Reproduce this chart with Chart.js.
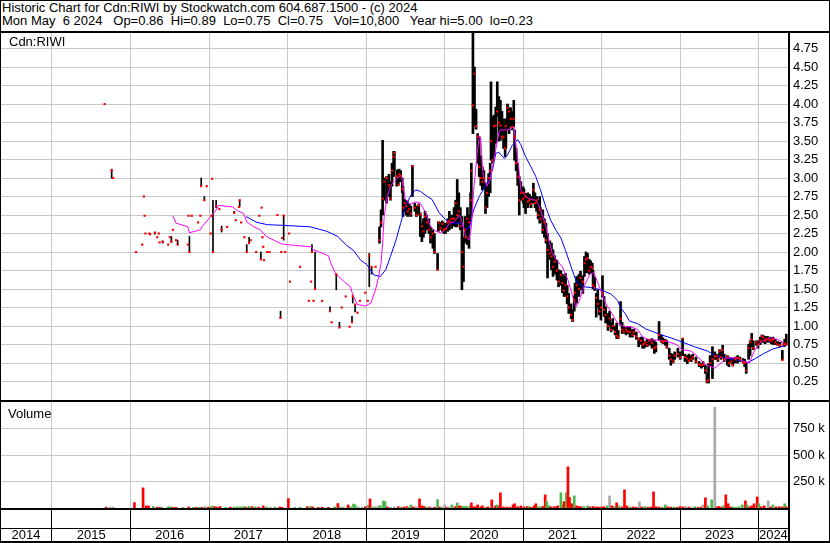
<!DOCTYPE html>
<html>
<head>
<meta charset="utf-8">
<script src="https://cdn.jsdelivr.net/npm/chart.js@4.4.1/dist/chart.umd.min.js"></script>
<style>
  body { margin: 0; background: #fff; }
  #wrap { position: relative; width: 830px; height: 543px; overflow: hidden; background: #fff;
          font-family: "Liberation Sans", Arial, sans-serif; color: #000; }
  .hdr { position: absolute; left: 2px; top: 1px; font-size: 13px; line-height: 13px; white-space: pre; }
  .lbl { position: absolute; font-size: 13px; line-height: 15px; white-space: pre; z-index: 3; }
  .ln { position: absolute; background: #000; z-index: 4; }
  #frame { position: absolute; left: 0; top: 0; width: 828px; height: 541px; border: 1px solid #000; z-index: 5; }
  canvas { position: absolute; left: 0; }
</style>
</head>
<body>
<div id="wrap">
  <div class="hdr" id="head"></div>
  <canvas id="price" width="830" height="367" style="top:33px"></canvas>
  <canvas id="vol" width="830" height="141" style="top:402px"></canvas>
  <div class="lbl" style="left:9px; top:34px">Cdn:RIWI</div>
  <div class="lbl" style="left:8px; top:406px">Volume</div>
  <div class="ln" style="left:0; top:31px; width:830px; height:2px"></div>
  <div class="ln" style="left:788px; top:31px; width:2px; height:512px"></div>
  <div class="ln" style="left:0; top:400px; width:830px; height:2px"></div>
  <div class="ln" style="left:0; top:508px; width:789px; height:2px"></div>
  <div class="ln" style="left:0; top:528px; width:789px; height:1px"></div>
  <div class="ln" style="left:0; top:541px; width:830px; height:2px"></div>
  <div id="frame"></div>
</div>
<script>
const headLines = [
  'Historic Chart for Cdn:RIWI by Stockwatch.com 604.687.1500 - (c) 2024',
  'Mon May  6 2024   Op=0.86  Hi=0.89  Lo=0.75  Cl=0.75   Vol=10,800   Year hi=5.00  lo=0.23'
];

// x range of the plot, in decimal years
const X_MIN = 2014.338, X_MAX = 2024.372;
const yearLines = [2015, 2016, 2017, 2018, 2019, 2020, 2021, 2022, 2023, 2024];
const priceTicks = [0.25, 0.5, 0.75, 1, 1.25, 1.5, 1.75, 2, 2.25, 2.5, 2.75, 3, 3.25, 3.5, 3.75, 4, 4.25, 4.5, 4.75];
const volTicks = [250000, 500000, 750000];

// daily bars (decimal year, low, high, close)
const barDate = [
  2015.67, 2015.76, 2015.78, 2016.07, 2016.15, 2016.17, 2016.18, 2016.19, 2016.24, 2016.25, 2016.31, 2016.34, 2016.36, 2016.37, 2016.41, 2016.48, 2016.50, 2016.52, 2016.54, 2016.58, 2016.60, 2016.73, 2016.74, 2016.75, 2016.78, 2016.86, 2016.89, 2016.90, 2016.94, 2016.97,
  2017.02, 2017.03, 2017.04, 2017.05, 2017.09, 2017.13, 2017.16, 2017.23, 2017.32, 2017.34, 2017.38, 2017.39, 2017.41, 2017.45, 2017.48, 2017.51, 2017.53, 2017.60, 2017.64, 2017.66, 2017.67, 2017.68, 2017.69, 2017.70, 2017.74, 2017.77, 2017.87, 2017.91, 2017.92, 2017.93, 2017.95, 2017.97,
  2018.02, 2018.03, 2018.16, 2018.27, 2018.30, 2018.31, 2018.33, 2018.35, 2018.44, 2018.54, 2018.56, 2018.62, 2018.66, 2018.69, 2018.74, 2018.79, 2018.82, 2018.83, 2018.86, 2018.89, 2018.92, 2018.99,
  2019.02, 2019.04, 2019.07, 2019.12, 2019.17, 2019.19, 2019.21, 2019.23, 2019.26, 2019.29, 2019.31, 2019.33, 2019.35, 2019.36, 2019.39, 2019.41, 2019.42, 2019.44, 2019.46, 2019.47,
  2019.49, 2019.51, 2019.53, 2019.55, 2019.57, 2019.59, 2019.62, 2019.64, 2019.67, 2019.69, 2019.71, 2019.73, 2019.75, 2019.77, 2019.80, 2019.82, 2019.85, 2019.87, 2019.91, 2019.92, 2019.95, 2019.97, 2019.99,
  2020.01, 2020.04, 2020.06, 2020.09, 2020.12, 2020.14, 2020.16, 2020.18, 2020.20, 2020.22, 2020.24, 2020.26, 2020.27, 2020.29, 2020.31, 2020.33, 2020.34, 2020.36, 2020.38, 2020.40, 2020.42, 2020.44, 2020.46, 2020.48,
  2020.50, 2020.52, 2020.54, 2020.56, 2020.58, 2020.59, 2020.61, 2020.63, 2020.65, 2020.67, 2020.69, 2020.71, 2020.73, 2020.75, 2020.77, 2020.78, 2020.80, 2020.82, 2020.84, 2020.86, 2020.88, 2020.89, 2020.91, 2020.93, 2020.95, 2020.97,
  2021.00, 2021.01, 2021.03, 2021.06, 2021.08, 2021.10, 2021.13, 2021.15, 2021.17, 2021.19, 2021.21, 2021.22, 2021.25, 2021.27, 2021.29, 2021.31, 2021.34, 2021.36, 2021.38, 2021.40, 2021.43, 2021.45, 2021.48, 2021.50,
  2021.52, 2021.54, 2021.56, 2021.58, 2021.61, 2021.63, 2021.65, 2021.66, 2021.68, 2021.71, 2021.73, 2021.76, 2021.78, 2021.80, 2021.82, 2021.84, 2021.86, 2021.88, 2021.89, 2021.91, 2021.93, 2021.95, 2021.97, 2021.99,
  2022.01, 2022.03, 2022.05, 2022.08, 2022.10, 2022.12, 2022.14, 2022.17, 2022.19, 2022.21, 2022.24, 2022.26, 2022.28, 2022.31, 2022.33, 2022.36, 2022.39, 2022.41, 2022.44, 2022.47,
  2022.50, 2022.52, 2022.54, 2022.56, 2022.58, 2022.61, 2022.64, 2022.67, 2022.69, 2022.73, 2022.76, 2022.78, 2022.81, 2022.83, 2022.86, 2022.88, 2022.91, 2022.93, 2022.97,
  2023.00, 2023.03, 2023.06, 2023.09, 2023.11, 2023.14, 2023.16, 2023.20, 2023.24, 2023.27, 2023.29, 2023.32, 2023.34, 2023.36, 2023.38, 2023.41, 2023.44, 2023.46, 2023.48, 2023.50,
  2023.52, 2023.54, 2023.56, 2023.60, 2023.62, 2023.65, 2023.67, 2023.70, 2023.73, 2023.76, 2023.80, 2023.82, 2023.84, 2023.87, 2023.89, 2023.91, 2023.93, 2023.97, 2023.99,
  2024.02, 2024.04, 2024.06, 2024.08, 2024.11, 2024.14, 2024.16, 2024.18, 2024.21, 2024.24, 2024.27, 2024.30, 2024.32, 2024.33, 2024.35
];
const barLow = [
  4.00, 3.00, 3.00, 2.00, 2.10, 2.75, 2.49, 2.25, 2.25, 2.24, 2.24, 2.20, 2.25, 2.13, 2.12, 2.10, 2.20, 2.13, 2.30, 2.16, 2.10, 2.10, 2.49, 2.00, 2.49, 2.40, 2.49, 2.89, 2.70, 2.89,
  2.25, 2.49, 2.99, 2.00, 2.60, 2.58, 2.27, 2.34, 2.53, 2.43, 2.61, 2.61, 2.40, 2.20, 2.00, 2.12, 2.16, 2.00, 2.49, 1.90, 2.60, 2.20, 2.07, 1.89, 2.00, 2.00, 2.50, 1.11, 2.00, 2.19, 2.16, 2.00,
  2.25, 1.60, 1.80, 1.34, 1.60, 2.00, 1.34, 1.49, 1.34, 1.20, 1.05, 1.49, 0.98, 1.25, 1.40, 0.99, 1.05, 1.31, 1.19, 1.18, 1.34, 1.45,
  1.34, 1.53, 1.70, 1.80, 2.12, 2.34, 2.50, 2.70, 2.66, 2.75, 2.70, 2.89, 3.02, 3.11, 2.89, 2.90, 2.95, 2.95, 2.80, 2.48,
  2.55, 2.50, 2.48, 2.50, 2.48, 2.75, 2.55, 2.48, 2.50, 2.21, 2.14, 2.20, 2.25, 2.30, 2.25, 2.12, 2.05, 1.98, 1.76, 2.28, 2.30, 2.28, 2.25,
  2.25, 2.28, 2.30, 2.32, 2.35, 2.34, 2.34, 2.40, 2.30, 1.49, 1.60, 2.12, 2.15, 2.10, 2.05, 2.40, 2.60, 3.60, 3.70, 3.66, 3.20, 3.02, 2.90, 2.84,
  2.85, 2.52, 2.60, 2.75, 2.80, 3.24, 3.20, 3.30, 3.47, 3.83, 3.50, 3.51, 3.55, 3.40, 3.29, 3.40, 3.65, 3.60, 3.70, 3.65, 3.69, 3.24, 3.10, 2.90, 2.50, 2.70,
  2.66, 2.60, 2.52, 2.60, 2.65, 2.60, 2.66, 2.60, 2.55, 2.45, 2.39, 2.40, 2.25, 2.20, 2.12, 1.65, 1.90, 1.76, 1.67, 1.70, 1.62, 1.53, 1.55, 1.45,
  1.40, 1.40, 1.30, 1.17, 1.10, 1.06, 1.20, 1.26, 1.31, 1.40, 1.49, 1.44, 1.67, 1.72, 1.72, 1.70, 1.72, 1.72, 1.50, 1.48, 1.12, 1.26, 1.15, 1.08,
  1.39, 1.13, 1.04, 0.94, 1.00, 0.92, 0.95, 0.88, 0.83, 0.83, 1.01, 0.90, 0.90, 0.88, 0.90, 0.85, 0.85, 0.88, 0.82, 0.72,
  0.75, 0.70, 0.70, 0.72, 0.72, 0.74, 0.70, 0.63, 0.65, 0.81, 0.78, 0.76, 0.74, 0.70, 0.55, 0.47, 0.50, 0.55, 0.58,
  0.55, 0.60, 0.52, 0.49, 0.52, 0.52, 0.55, 0.50, 0.45, 0.43, 0.45, 0.36, 0.23, 0.23, 0.45, 0.29, 0.55, 0.55, 0.52, 0.58,
  0.55, 0.58, 0.52, 0.47, 0.45, 0.50, 0.46, 0.50, 0.50, 0.52, 0.50, 0.45, 0.36, 0.55, 0.60, 0.72, 0.68, 0.74, 0.70,
  0.75, 0.78, 0.78, 0.76, 0.78, 0.78, 0.76, 0.75, 0.75, 0.74, 0.72, 0.54, 0.72, 0.73, 0.75
];
const barHigh = [
  4.00, 3.12, 3.00, 2.00, 2.10, 2.75, 2.49, 2.25, 2.25, 2.24, 2.27, 2.20, 2.25, 2.13, 2.15, 2.10, 2.20, 2.21, 2.30, 2.16, 2.16, 2.10, 2.49, 2.21, 2.49, 2.40, 2.49, 3.00, 2.75, 2.89,
  2.25, 2.49, 2.99, 2.70, 2.70, 2.58, 2.35, 2.34, 2.55, 2.43, 2.61, 2.70, 2.40, 2.20, 2.10, 2.20, 2.16, 2.00, 2.49, 2.00, 2.60, 2.20, 2.07, 1.89, 2.00, 2.00, 2.50, 1.20, 2.00, 2.19, 2.50, 2.00,
  2.25, 1.60, 1.80, 1.34, 1.60, 2.10, 1.34, 2.00, 1.34, 1.26, 1.05, 1.70, 1.05, 1.25, 1.40, 0.99, 1.13, 1.41, 1.29, 1.18, 1.34, 1.45,
  1.34, 1.98, 1.80, 1.80, 2.34, 2.57, 3.51, 3.00, 3.02, 3.05, 2.95, 3.20, 3.36, 3.36, 3.11, 3.10, 3.12, 3.10, 3.00, 2.89,
  2.71, 2.70, 2.68, 2.65, 2.62, 3.17, 2.66, 2.62, 2.65, 2.53, 2.39, 2.45, 2.55, 2.50, 2.45, 2.34, 2.30, 2.25, 1.98, 2.41, 2.40, 2.42, 2.39,
  2.39, 2.45, 2.55, 2.50, 2.60, 2.70, 2.98, 2.80, 2.60, 2.48, 2.20, 2.48, 2.45, 2.60, 2.50, 2.80, 3.20, 5.00, 4.50, 3.93, 3.60, 3.56, 3.30, 3.15,
  3.10, 2.93, 2.90, 3.06, 3.20, 4.30, 3.83, 3.85, 3.96, 4.30, 4.10, 4.05, 3.90, 3.80, 3.65, 3.80, 4.00, 3.95, 3.95, 3.90, 4.05, 3.65, 3.40, 3.20, 3.02, 2.95,
  2.88, 2.85, 2.79, 2.80, 2.78, 2.75, 2.93, 2.80, 2.75, 2.70, 2.75, 2.60, 2.57, 2.45, 2.39, 2.25, 2.15, 2.12, 2.03, 1.95, 1.89, 1.76, 1.75, 1.70,
  1.67, 1.71, 1.55, 1.44, 1.30, 1.22, 1.40, 1.58, 1.67, 1.70, 1.74, 1.68, 1.94, 2.00, 1.98, 1.90, 1.88, 1.85, 1.75, 1.66, 1.44, 1.49, 1.35, 1.35,
  1.68, 1.40, 1.26, 1.17, 1.20, 1.05, 1.10, 1.00, 1.04, 0.94, 1.33, 1.05, 1.00, 0.98, 0.99, 0.99, 0.95, 0.96, 0.92, 0.84,
  0.85, 0.85, 0.78, 0.80, 0.82, 0.82, 0.83, 0.81, 0.78, 1.06, 0.88, 0.84, 0.82, 0.80, 0.70, 0.63, 0.62, 0.65, 0.70,
  0.65, 0.83, 0.62, 0.60, 0.62, 0.60, 0.62, 0.58, 0.52, 0.49, 0.52, 0.47, 0.36, 0.49, 0.60, 0.72, 0.65, 0.62, 0.60, 0.68,
  0.65, 0.74, 0.62, 0.60, 0.58, 0.57, 0.56, 0.58, 0.60, 0.58, 0.56, 0.55, 0.51, 0.75, 0.80, 0.90, 0.80, 0.80, 0.80,
  0.85, 0.88, 0.87, 0.86, 0.86, 0.85, 0.84, 0.85, 0.82, 0.79, 0.78, 0.67, 0.78, 0.82, 0.89
];
const barClose = [
  4.00, 3.10, 3.00, 2.00, 2.10, 2.75, 2.49, 2.25, 2.25, 2.24, 2.26, 2.20, 2.25, 2.13, 2.14, 2.10, 2.20, 2.14, 2.30, 2.16, 2.10, 2.10, 2.49, 2.00, 2.49, 2.40, 2.49, 2.89, 2.70, 2.89,
  2.25, 2.49, 2.99, 2.00, 2.62, 2.58, 2.30, 2.34, 2.53, 2.43, 2.61, 2.70, 2.40, 2.20, 2.00, 2.12, 2.16, 2.00, 2.49, 1.90, 2.60, 2.20, 2.07, 1.89, 2.00, 2.00, 2.50, 1.11, 2.00, 2.19, 2.49, 2.00,
  2.25, 1.60, 1.80, 1.34, 1.60, 2.00, 1.34, 1.50, 1.34, 1.20, 1.05, 1.70, 0.98, 1.25, 1.40, 0.99, 1.05, 1.40, 1.29, 1.18, 1.34, 1.45,
  1.34, 1.95, 1.80, 1.80, 2.16, 2.40, 2.72, 2.95, 3.00, 2.90, 2.72, 3.10, 3.29, 3.34, 3.02, 2.91, 3.05, 3.03, 2.85, 2.60,
  2.66, 2.62, 2.55, 2.58, 2.52, 3.16, 2.60, 2.50, 2.63, 2.51, 2.35, 2.28, 2.48, 2.40, 2.30, 2.20, 2.25, 2.00, 1.76, 2.40, 2.32, 2.38, 2.30,
  2.31, 2.40, 2.42, 2.45, 2.45, 2.66, 2.50, 2.55, 2.35, 2.00, 1.80, 2.30, 2.20, 2.45, 2.40, 2.70, 3.10, 3.98, 4.41, 3.70, 3.56, 3.15, 3.00, 2.95,
  3.00, 2.60, 2.80, 3.00, 3.10, 3.50, 3.24, 3.70, 3.71, 3.90, 3.75, 3.71, 3.56, 3.55, 3.40, 3.70, 3.95, 3.90, 3.80, 3.69, 3.80, 3.56, 3.20, 3.02, 2.70, 2.80,
  2.72, 2.80, 2.75, 2.68, 2.70, 2.65, 2.84, 2.66, 2.70, 2.50, 2.57, 2.45, 2.30, 2.40, 2.16, 2.03, 1.98, 1.94, 1.80, 1.87, 1.75, 1.60, 1.69, 1.58,
  1.48, 1.55, 1.40, 1.25, 1.15, 1.08, 1.35, 1.45, 1.55, 1.50, 1.65, 1.60, 1.85, 1.90, 1.92, 1.75, 1.80, 1.78, 1.55, 1.52, 1.38, 1.30, 1.20, 1.25,
  1.45, 1.22, 1.15, 1.00, 1.10, 0.95, 1.00, 0.92, 0.87, 0.85, 1.10, 0.95, 0.92, 0.95, 0.93, 0.92, 0.88, 0.92, 0.86, 0.82,
  0.80, 0.75, 0.76, 0.78, 0.74, 0.80, 0.77, 0.70, 0.72, 0.88, 0.80, 0.78, 0.80, 0.72, 0.60, 0.55, 0.52, 0.60, 0.62,
  0.58, 0.83, 0.58, 0.56, 0.53, 0.55, 0.58, 0.52, 0.48, 0.47, 0.48, 0.40, 0.25, 0.27, 0.50, 0.55, 0.59, 0.59, 0.55, 0.66,
  0.58, 0.68, 0.55, 0.59, 0.50, 0.52, 0.47, 0.55, 0.57, 0.55, 0.51, 0.50, 0.40, 0.70, 0.78, 0.82, 0.70, 0.78, 0.75,
  0.80, 0.86, 0.84, 0.80, 0.82, 0.81, 0.80, 0.82, 0.78, 0.75, 0.74, 0.54, 0.75, 0.76, 0.75
];

// short moving average (magenta)
const fastDate = [
  2016.54, 2016.58, 2016.73, 2016.75, 2016.89, 2016.91, 2017.02, 2017.08, 2017.12, 2017.30, 2017.36, 2017.44, 2017.48, 2017.57, 2017.65, 2017.73, 2017.92, 2017.99,
  2018.30, 2018.33, 2018.52, 2018.55, 2018.61, 2018.74, 2018.80, 2018.83, 2018.89, 2018.99,
  2019.06, 2019.12, 2019.16, 2019.19, 2019.21, 2019.23, 2019.27, 2019.31, 2019.35, 2019.42, 2019.45, 2019.47, 2019.50, 2019.56, 2019.63, 2019.69, 2019.76, 2019.82, 2019.89, 2019.95,
  2020.01, 2020.06, 2020.12, 2020.19, 2020.23, 2020.27, 2020.31, 2020.34, 2020.37, 2020.41, 2020.44, 2020.46, 2020.48, 2020.50, 2020.54, 2020.58, 2020.63, 2020.69, 2020.71, 2020.80, 2020.84, 2020.88, 2020.91, 2020.95, 2020.97,
  2021.03, 2021.10, 2021.16, 2021.20, 2021.29, 2021.33, 2021.37, 2021.44, 2021.50, 2021.57, 2021.63, 2021.67, 2021.71, 2021.78, 2021.85, 2021.90, 2021.97,
  2022.05, 2022.14, 2022.20, 2022.29, 2022.37, 2022.46, 2022.52, 2022.61, 2022.71, 2022.84, 2022.95,
  2023.03, 2023.14, 2023.22, 2023.32, 2023.44, 2023.52, 2023.60, 2023.73, 2023.81, 2023.88, 2023.94,
  2024.03, 2024.14, 2024.24, 2024.32, 2024.35
];
const fastAvg = [
  2.49, 2.39, 2.34, 2.26, 2.30, 2.34, 2.48, 2.55, 2.63, 2.61, 2.56, 2.52, 2.41, 2.34, 2.30, 2.21, 2.11, 2.10,
  2.07, 2.03, 1.95, 1.85, 1.71, 1.58, 1.53, 1.42, 1.29, 1.27,
  1.31, 1.49, 1.67, 1.85, 2.12, 2.48, 2.75, 2.89, 2.95, 3.02, 3.04, 2.89, 2.71, 2.64, 2.68, 2.66, 2.53, 2.34, 2.28, 2.26,
  2.30, 2.39, 2.41, 2.50, 2.37, 2.21, 2.16, 2.34, 2.84, 3.29, 3.56, 3.54, 3.15, 2.98, 2.89, 2.98, 3.26, 3.61, 3.65, 3.65, 3.66, 3.70, 3.43, 3.08, 2.84,
  2.75, 2.71, 2.70, 2.63, 2.35, 2.15, 1.98, 1.87, 1.80, 1.62, 1.40, 1.26, 1.33, 1.55, 1.70, 1.72, 1.53,
  1.31, 1.15, 1.04, 0.99, 0.99, 0.95, 0.85, 0.81, 0.81, 0.79, 0.75,
  0.68, 0.66, 0.59, 0.48, 0.43, 0.50, 0.57, 0.57, 0.52, 0.50, 0.66,
  0.79, 0.84, 0.82, 0.77, 0.75
];

// long moving average (blue)
const slowDate = [
  2017.47, 2017.61, 2017.74, 2017.95,
  2018.29, 2018.50, 2018.64, 2018.74, 2018.84, 2018.93,
  2019.01, 2019.10, 2019.18, 2019.25, 2019.31, 2019.38, 2019.44, 2019.50, 2019.57, 2019.63, 2019.69, 2019.78, 2019.84, 2019.93,
  2020.01, 2020.10, 2020.20, 2020.27, 2020.31, 2020.37, 2020.44, 2020.54, 2020.61, 2020.65, 2020.69, 2020.76, 2020.80, 2020.86, 2020.93, 2020.97,
  2021.03, 2021.10, 2021.16, 2021.22, 2021.29, 2021.35, 2021.42, 2021.48, 2021.54, 2021.61, 2021.67, 2021.71, 2021.78, 2021.86, 2021.99,
  2022.12, 2022.20, 2022.24, 2022.31, 2022.35, 2022.46, 2022.56, 2022.76, 2022.88,
  2023.01, 2023.18, 2023.35, 2023.44, 2023.56, 2023.73, 2023.86, 2023.94,
  2024.05, 2024.18, 2024.33, 2024.37
];
const slowAvg = [
  2.48, 2.40, 2.37, 2.36,
  2.34, 2.28, 2.21, 2.10, 2.02, 1.89,
  1.83, 1.69, 1.67, 1.76, 1.94, 2.16, 2.39, 2.61, 2.77, 2.84, 2.82, 2.75, 2.71, 2.53,
  2.44, 2.39, 2.39, 2.30, 2.32, 2.57, 2.75, 2.93, 3.11, 3.33, 3.35, 3.26, 3.31, 3.44, 3.52, 3.45,
  3.29, 3.15, 3.02, 2.84, 2.60, 2.43, 2.29, 2.19, 2.02, 1.80, 1.62, 1.56, 1.53, 1.52, 1.49,
  1.43, 1.35, 1.25, 1.15, 1.07, 1.03, 0.96, 0.88, 0.84,
  0.79, 0.72, 0.66, 0.60, 0.57, 0.54, 0.51, 0.55,
  0.62, 0.69, 0.73, 0.75
];

// volume (decimal year, shares, day direction d/u/n)
const volDate = [
  2015.69, 2015.74, 2015.78,
  2016.05, 2016.16, 2016.20, 2016.23, 2016.29, 2016.34, 2016.38, 2016.40, 2016.48, 2016.51, 2016.54, 2016.58, 2016.67, 2016.74, 2016.80, 2016.84, 2016.88, 2016.91, 2016.95, 2016.99,
  2017.02, 2017.04, 2017.07, 2017.10, 2017.14, 2017.21, 2017.27, 2017.32, 2017.36, 2017.40, 2017.44, 2017.47, 2017.51, 2017.55, 2017.59, 2017.63, 2017.69, 2017.73, 2017.78, 2017.84, 2017.90, 2017.93,
  2018.01, 2018.09, 2018.16, 2018.25, 2018.29, 2018.32, 2018.39, 2018.44, 2018.52, 2018.60, 2018.64, 2018.67, 2018.71, 2018.77, 2018.80, 2018.84, 2018.86, 2018.90, 2018.95, 2018.99,
  2019.03, 2019.05, 2019.08, 2019.12, 2019.16, 2019.18, 2019.22, 2019.24, 2019.27, 2019.31, 2019.36, 2019.41, 2019.44, 2019.48, 2019.52, 2019.54, 2019.57, 2019.60, 2019.64, 2019.68, 2019.71, 2019.74, 2019.77, 2019.81, 2019.83, 2019.87, 2019.91, 2019.94, 2019.96,
  2020.00, 2020.03, 2020.05, 2020.09, 2020.13, 2020.16, 2020.18, 2020.20, 2020.23, 2020.26, 2020.28, 2020.32, 2020.34, 2020.37, 2020.40, 2020.42, 2020.46, 2020.48, 2020.52, 2020.55, 2020.60, 2020.63, 2020.65, 2020.67, 2020.69, 2020.71, 2020.75, 2020.79, 2020.83, 2020.87, 2020.89, 2020.93, 2020.97,
  2021.01, 2021.05, 2021.07, 2021.10, 2021.14, 2021.16, 2021.19, 2021.22, 2021.25, 2021.28, 2021.30, 2021.33, 2021.35, 2021.39, 2021.42, 2021.44, 2021.48, 2021.51, 2021.52, 2021.55, 2021.57, 2021.59, 2021.62, 2021.65, 2021.68, 2021.71, 2021.73, 2021.77, 2021.82, 2021.85, 2021.89, 2021.93, 2021.96,
  2022.00, 2022.03, 2022.07, 2022.10, 2022.13, 2022.16, 2022.19, 2022.22, 2022.26, 2022.29, 2022.32, 2022.36, 2022.40, 2022.44, 2022.48, 2022.51, 2022.55, 2022.59, 2022.63, 2022.66, 2022.69, 2022.73, 2022.77, 2022.81, 2022.84, 2022.88, 2022.92, 2022.96,
  2023.00, 2023.04, 2023.07, 2023.11, 2023.15, 2023.19, 2023.23, 2023.27, 2023.29, 2023.32, 2023.35, 2023.40, 2023.44, 2023.47, 2023.49, 2023.52, 2023.55, 2023.58, 2023.61, 2023.64, 2023.67, 2023.71, 2023.75, 2023.79, 2023.83, 2023.85, 2023.88, 2023.91, 2023.94, 2023.98,
  2024.00, 2024.03, 2024.07, 2024.12, 2024.15, 2024.18, 2024.22, 2024.26, 2024.30, 2024.33, 2024.35
];
const volShares = [
  8000, 10000, 8000,
  51000, 190000, 20000, 20000, 15000, 8000, 6000, 6000, 12000, 10000, 6000, 6000, 5000, 10000, 6000, 6000, 8000, 6000, 14000, 8000,
  12000, 18000, 12000, 8000, 14000, 5000, 8000, 10000, 10000, 12000, 14000, 8000, 16000, 12000, 10000, 8000, 20000, 10000, 8000, 8000, 10000, 6000,
  89000, 5000, 6000, 12000, 14000, 10000, 5000, 8000, 6000, 10000, 42000, 8000, 10000, 29000, 12000, 37000, 30000, 12000, 8000, 12000,
  25000, 86000, 14000, 10000, 20000, 22000, 67000, 60000, 10000, 6000, 10000, 12000, 8000, 10000, 14000, 8000, 28000, 10000, 12000, 86000, 20000, 14000, 8000, 10000, 6000, 8000, 80000, 10000, 6000,
  29000, 8000, 10000, 29000, 12000, 48000, 12000, 20000, 14000, 14000, 14000, 20000, 48000, 12000, 10000, 29000, 10000, 20000, 10000, 10000, 77000, 12000, 20000, 29000, 12000, 143000, 10000, 8000, 8000, 29000, 40000, 12000, 20000,
  10000, 14000, 12000, 8000, 20000, 40000, 12000, 10000, 14000, 124000, 60000, 20000, 10000, 12000, 10000, 20000, 143000, 30000, 60000, 143000, 389000, 100000, 40000, 114000, 20000, 14000, 12000, 14000, 20000, 10000, 14000, 10000, 8000,
  10000, 12000, 20000, 114000, 20000, 12000, 48000, 20000, 10000, 171000, 20000, 10000, 10000, 8000, 58000, 10000, 14000, 8000, 10000, 152000, 12000, 10000, 8000, 29000, 10000, 8000, 10000, 6000,
  14000, 10000, 14000, 8000, 10000, 12000, 6000, 10000, 29000, 96000, 20000, 77000, 951000, 10000, 14000, 8000, 20000, 124000, 40000, 10000, 10000, 8000, 12000, 30000, 67000, 29000, 10000, 20000, 40000, 105000,
  40000, 12000, 20000, 67000, 10000, 29000, 10000, 12000, 10000, 40000, 10800
];
const volDir = (
  'dnn ' +
  'ddddu dduuu ddudu dudnd ' +
  'uuddd uduuu ududu ddunu dd ' +
  'duudu ddddu dundu uunnd ' +
  'udnun uuudn ndudd nudnd ddudn dudu ' +
  'ndnud udduu uuddd dddnd dndud ddddd ddd ' +
  'ddudd duudd uuddd duudu dddud dduud ddd ' +
  'ddund ududd duddn duddd dduud dud ' +
  'ddndn uddnd uundd duddd uuuud udddd ' +
  'uddnd udddu d'
).replace(/\s/g, '').split('');

const GRID = '#c8c8c8';
const DIR_COLOR = { d: '#ff0000', u: '#4cb84c', n: '#a8a8a8' };

Chart.defaults.font.family = '"Liberation Sans", Arial, sans-serif';
Chart.defaults.font.size = 13;
Chart.defaults.color = '#000';

document.getElementById('head').textContent = headLines.join('\n');

const bars = barDate.map((d, i) => ({ x: d, y: [barLow[i], barHigh[i]] }));
const closes = barDate.map((d, i) => ({ x: d, y: barClose[i] }));
const fast = fastDate.map((d, i) => ({ x: d, y: fastAvg[i] }));
const slow = slowDate.map((d, i) => ({ x: d, y: slowAvg[i] }));

// keep the plot flush with the frame: no label overflow padding
const noPad = s => { s.paddingTop = 0; s.paddingBottom = 0; s.paddingLeft = 0; s.paddingRight = 0; };

const baseOpts = {
  responsive: false,
  animation: false,
  devicePixelRatio: 1,
  layout: { padding: 0, autoPadding: false },
  plugins: { legend: { display: false }, tooltip: { enabled: false } },
  events: []
};

new Chart(document.getElementById('price'), {
  type: 'bar',
  data: {
    datasets: [
      { type: 'scatter', data: closes, pointStyle: 'rect', pointRadius: 1.5, backgroundColor: '#ff0000', borderWidth: 0 },
      { type: 'line', data: fast, borderColor: '#ff00ff', borderWidth: 1, pointRadius: 0, fill: false, tension: 0 },
      { type: 'line', data: slow, borderColor: '#0000ff', borderWidth: 1, pointRadius: 0, fill: false, tension: 0 },
      { type: 'bar', data: bars.filter(b => b.x >= 2019.15), backgroundColor: '#000', barThickness: 2, grouped: false },
      { type: 'bar', data: bars.filter(b => b.x < 2019.15), backgroundColor: '#000', barThickness: 1, grouped: false }
    ]
  },
  options: {
    ...baseOpts,
    scales: {
      x: {
        type: 'linear', min: X_MIN, max: X_MAX, offset: false,
        afterBuildTicks: s => { s.ticks = yearLines.map(v => ({ value: v })); },
        ticks: { display: false },
        grid: { color: GRID, drawTicks: false, offset: false },
        border: { display: false },
        afterFit: s => { s.height = 0; noPad(s); }
      },
      y: {
        position: 'right', min: 0, max: 4.96,
        afterBuildTicks: s => { s.ticks = priceTicks.map(v => ({ value: v })); },
        ticks: { padding: 5, callback: v => v.toFixed(2) },
        grid: { color: GRID, drawTicks: false },
        border: { display: false },
        afterFit: s => { s.width = 42; noPad(s); }
      }
    }
  }
});

// year cells: boundaries carry the grid lines, midpoints carry the labels
const yearTicks = [(X_MIN + 2015) / 2];
yearLines.forEach((y, i) => {
  yearTicks.push(y);
  yearTicks.push(i < yearLines.length - 1 ? y + 0.5 : (y + X_MAX) / 2);
});
const isEdge = c => c.tick && Number.isInteger(c.tick.value);

new Chart(document.getElementById('vol'), {
  type: 'bar',
  data: {
    datasets: [{
      data: volDate.map((d, i) => ({ x: d, y: volShares[i] })),
      backgroundColor: volDir.map(c => DIR_COLOR[c] || DIR_COLOR.d),
      barThickness: 2,
      grouped: false
    }]
  },
  options: {
    ...baseOpts,
    scales: {
      x: {
        type: 'linear', min: X_MIN, max: X_MAX, offset: false,
        afterBuildTicks: s => { s.ticks = yearTicks.map(v => ({ value: v })); },
        ticks: {
          autoSkip: false, maxRotation: 0, minRotation: 0, padding: -13,
          callback: v => Number.isInteger(v) ? '' : String(Math.floor(v))
        },
        grid: {
          offset: false,
          color: c => isEdge(c) ? GRID : 'rgba(0,0,0,0)',
          tickColor: c => isEdge(c) ? '#000' : 'rgba(0,0,0,0)',
          tickLength: 33, tickWidth: 1
        },
        border: { display: false },
        afterFit: s => { s.height = 35; noPad(s); }
      },
      y: {
        position: 'right', min: 0, max: 1000000,
        afterBuildTicks: s => { s.ticks = volTicks.map(v => ({ value: v })); },
        ticks: { padding: 5, callback: v => (v / 1000) + ' k' },
        grid: { color: GRID, drawTicks: false },
        border: { display: false },
        afterFit: s => { s.width = 42; noPad(s); }
      }
    }
  }
});
</script>
</body>
</html>
